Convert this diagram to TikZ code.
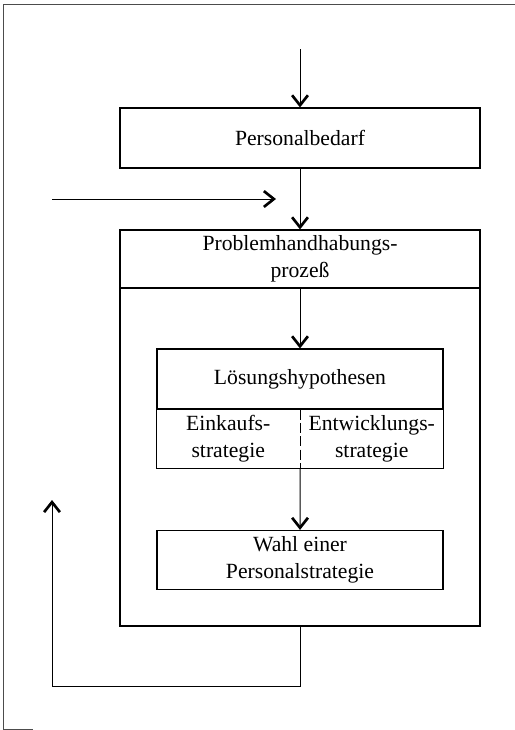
\documentclass[tikz,border=0pt]{standalone}
\usepackage{fontspec}
\setmainfont{Liberation Serif}
\usetikzlibrary{arrows.meta}
\begin{document}
\begin{tikzpicture}[x=0.6pt,y=-0.6pt]
		\tikzstyle{kasten}=[rectangle,draw=black,line width=0.7pt,inner sep=2pt,align=center,font=\fontsize{13}{16.5}\selectfont]
		\tikzstyle{feld}=[rectangle,inner sep=2pt,align=center,font=\fontsize{13}{16.5}\selectfont]
		\tikzstyle{edge}=[draw, line width=0.6pt, -{Straight Barb[length=6pt,width=9.5pt,line width=1.6pt]}]
		\useasboundingbox (0,0) rectangle (515,730);
		% Rahmen der Abbildung
		\draw[line width=0.5pt, black!70] (515,4) -- (3,4) -- (3,729) -- (33,729);
		\begin{scope}
			\coordinate (start) at (300,49);
			\coordinate (links) at (52,199);
			\coordinate (rechts) at (276,199);
			\coordinate (knick) at (52,686);
			\coordinate (rueck) at (52,500);
			\node [kasten, minimum width=216pt, minimum height=36pt] (bedarf) at (300,138) {Personalbedarf};
			\node [kasten, minimum width=216pt, minimum height=237.6pt] (rahmen) at (300,428) {};
			\node [kasten, minimum width=216pt, minimum height=34.8pt] (prozess) at (300,259) {Problemhandhabungs-\\prozeß};
			\node [kasten, minimum width=171.6pt, minimum height=36pt] (hypo) at (300,379) {Lösungshypothesen};
			\node [feld, minimum width=85.8pt, minimum height=34.8pt, anchor=north west] (einkauf) at (hypo.south west) {Einkaufs-\\strategie};
			\node [feld, minimum width=85.8pt, minimum height=34.8pt, anchor=north east] (entwicklung) at (hypo.south east) {Entwicklungs-\\strategie};
			\node [kasten, minimum width=171.6pt, minimum height=35.4pt] (wahl) at (300,560) {Wahl einer\\Personalstrategie};
			\draw[line width=0.7pt] (einkauf.north west) -- (einkauf.south west) -- (entwicklung.south east) -- (entwicklung.north east);
			\draw[line width=0.4pt, dashed, dash pattern=on 6pt off 2pt] (einkauf.north east) -- (einkauf.south east);
			\path[edge] (start) -- (bedarf);
			\path[edge] (bedarf) -- (prozess);
			\path[edge] (links) -- (rechts);
			\path[edge] (prozess) -- (hypo);
			\path[edge] (einkauf.south east) -- (wahl);
			\path[edge] (rahmen.south) |- (knick) -- (rueck);
		\end{scope}
\end{tikzpicture}
\end{document}
